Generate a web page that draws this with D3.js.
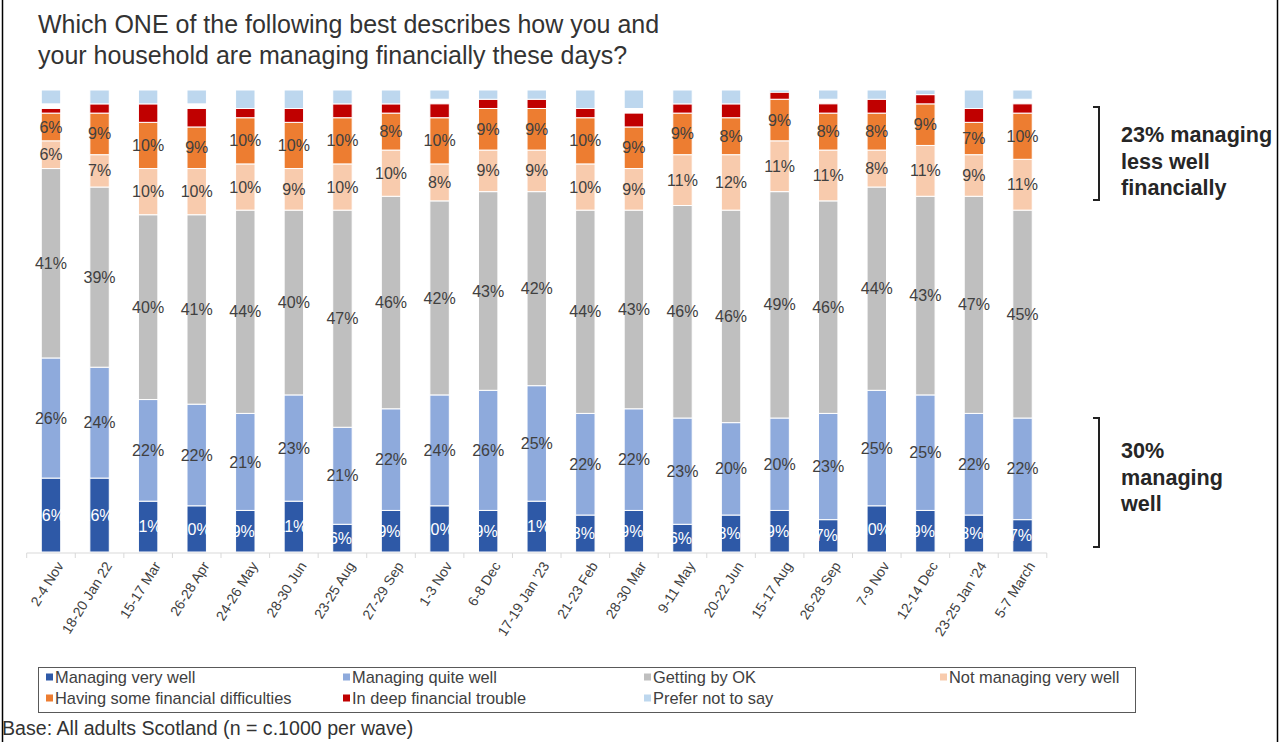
<!DOCTYPE html>
<html>
<head>
<meta charset="utf-8">
<script src="https://cdn.jsdelivr.net/npm/d3@7"></script>
<style>
  html, body { margin: 0; padding: 0; background: #fff; }
  svg { display: block; font-family: "Liberation Sans", Arial, sans-serif; }
</style>
</head>
<body>
<svg id="chart" width="1283" height="742"></svg>
<script>
// Survey waves (x axis)
const waves = ["2-4 Nov", "18-20 Jan 22", "15-17 Mar", "26-28 Apr", "24-26 May", "28-30 Jun",
  "23-25 Aug", "27-29 Sep", "1-3 Nov", "6-8 Dec", "17-19 Jan '23", "21-23 Feb", "28-30 Mar",
  "9-11 May", "20-22 Jun", "15-17 Aug", "26-28 Sep", "7-9 Nov", "12-14 Dec", "23-25 Jan '24", "5-7 March"];

// Share of respondents (%) per answer, one value per wave
const managingVeryWell   = [16, 16, 11, 10, 9, 11, 6, 9, 10, 9, 11, 8, 9, 6, 8, 9, 7, 10, 9, 8, 7];
const managingQuiteWell  = [26, 24, 22, 22, 21, 23, 21, 22, 24, 26, 25, 22, 22, 23, 20, 20, 23, 25, 25, 22, 22];
const gettingByOK        = [41, 39, 40, 41, 44, 40, 47, 46, 42, 43, 42, 44, 43, 46, 46, 49, 46, 44, 43, 47, 45];
const notManagingWell    = [6, 7, 10, 10, 10, 9, 10, 10, 8, 9, 9, 10, 9, 11, 12, 11, 11, 8, 11, 9, 11];
const someDifficulties   = [6, 9, 10, 9, 10, 10, 10, 8, 10, 9, 9, 10, 9, 9, 8, 9, 8, 8, 9, 7, 10];
const deepTrouble        = [1, 2, 4, 4, 2, 3, 3, 2, 3, 2, 2, 2, 3, 2, 3, 2, 2, 3, 2, 3, 2];
const preferNotToSay     = [3, 3, 3, 3, 4, 4, 3, 3, 2, 2, 2, 4, 4, 3, 3, 0.5, 2, 2, 1, 4, 2];

const seriesNames = ["Managing very well", "Managing quite well", "Getting by OK", "Not managing very well",
  "Having some financial difficulties", "In deep financial trouble", "Prefer not to say"];
const seriesColors = ["#2E59A7", "#8EAADC", "#BFBFBF", "#F8CBAD", "#ED7D31", "#C00000", "#BDD7EE"];
const labelledSeries = [true, true, true, true, true, false, false];

const seriesValues = [managingVeryWell, managingQuiteWell, gettingByOK, notManagingWell,
  someDifficulties, deepTrouble, preferNotToSay];

// Rows for d3.stack
const rows = waves.map((w, i) => {
  const r = { wave: w };
  seriesNames.forEach((s, k) => { r[s] = seriesValues[k][i]; });
  return r;
});

const svg = d3.select("#chart");

const x = d3.scaleBand().domain(waves).range([26.7, 1046.8]).paddingInner(0.6).paddingOuter(0.3);
const y = d3.scaleLinear().domain([0, 100]).range([552, 90]);

// Frame around the slide
svg.append("line").attr("x1", 2.5).attr("x2", 2.5).attr("y1", 0).attr("y2", 742)
  .attr("stroke", "#000").attr("stroke-width", 1.5);
svg.append("line").attr("x1", 1277.5).attr("x2", 1277.5).attr("y1", 0).attr("y2", 742)
  .attr("stroke", "#000").attr("stroke-width", 1.5);

// Title
const title = svg.append("text").attr("font-size", 25).attr("fill", "#333");
title.append("tspan").attr("x", 38).attr("y", 33).text("Which ONE of the following best describes how you and");
title.append("tspan").attr("x", 38).attr("y", 64).text("your household are managing financially these days?");

// The first six answers stack from the baseline; "Prefer not to say" sits at the top of each bar
const stackKeys = seriesNames.slice(0, 6);
const stacked = d3.stack().keys(stackKeys)(rows);

const bw = x.bandwidth();
const plot = svg.append("g");

stacked.forEach((layer, k) => {
  plot.append("g").selectAll("rect").data(layer).join("rect")
    .attr("x", d => x(d.data.wave))
    .attr("width", bw)
    .attr("y", d => y(d[1]))
    .attr("height", d => Math.max(0, y(d[0]) - y(d[1])))
    .attr("fill", seriesColors[k])
    .attr("stroke", "#fff").attr("stroke-width", 1);
});

const preferKey = seriesNames[6];
plot.append("g").selectAll("rect").data(rows).join("rect")
  .attr("x", d => x(d.wave))
  .attr("width", bw)
  .attr("y", y(100))
  .attr("height", d => y(100 - d[preferKey]) - y(100))
  .attr("fill", seriesColors[6])
  .attr("stroke", "#fff").attr("stroke-width", 1);

// Data labels centred in each labelled segment (white on the darkest series)
stacked.forEach((layer, k) => {
  if (!labelledSeries[k]) return;
  plot.append("g").selectAll("text").data(layer).join("text")
    .attr("x", d => x(d.data.wave) + bw / 2 + (k === 0 ? -2 : 0))
    .attr("y", d => y((d[0] + d[1]) / 2))
    .attr("dy", "0.35em")
    .attr("text-anchor", "middle")
    .attr("font-size", 16)
    .attr("fill", k === 0 ? "#fff" : "#404040")
    .text(d => (d[1] - d[0]) + "%");
});

// Category axis: light baseline with ticks between waves
const step = x.step();
const axisG = svg.append("g");
axisG.append("line").attr("x1", x.range()[0]).attr("x2", x.range()[1])
  .attr("y1", 553).attr("y2", 553).attr("stroke", "#D9D9D9").attr("stroke-width", 1);
const bounds = waves.map(w => x(w) + bw / 2 - step / 2).concat([x(waves[waves.length - 1]) + bw / 2 + step / 2]);
axisG.selectAll("line.tick").data(bounds).join("line").attr("class", "tick")
  .attr("x1", d => d).attr("x2", d => d).attr("y1", 553).attr("y2", 558)
  .attr("stroke", "#D9D9D9");
axisG.selectAll("text").data(waves).join("text")
  .attr("transform", d => `translate(${x(d) + bw / 2 + 9},${563}) rotate(-58)`)
  .attr("text-anchor", "end")
  .attr("dy", "0.35em")
  .attr("font-size", 14)
  .attr("fill", "#404040")
  .text(d => d);

// Bracket annotations on the right
function bracket(y0, y1) {
  svg.append("path")
    .attr("d", `M1093,${y0} H1099 V${y1} H1093`)
    .attr("fill", "none").attr("stroke", "#222").attr("stroke-width", 2);
}
bracket(107, 200);
bracket(418, 547);

const noteTop = ["23% managing", "less well", "financially"];
const noteBottom = ["30%", "managing", "well"];
svg.append("g").selectAll("text").data(noteTop).join("text")
  .attr("x", 1121).attr("y", (d, i) => 142 + i * 26.5)
  .attr("font-size", 21.6).attr("font-weight", "bold").attr("fill", "#262626").text(d => d);
svg.append("g").selectAll("text").data(noteBottom).join("text")
  .attr("x", 1121).attr("y", (d, i) => 458 + i * 26.5)
  .attr("font-size", 21.6).attr("font-weight", "bold").attr("fill", "#262626").text(d => d);

// Legend
const legend = svg.append("g");
legend.append("rect").attr("x", 38.5).attr("y", 667.5).attr("width", 1097).attr("height", 45)
  .attr("fill", "none").attr("stroke", "#595959").attr("stroke-width", 1);
const legendCols = [46, 343, 644, 940];
seriesNames.forEach((name, i) => {
  const row = i < 4 ? 0 : 1;
  const col = i < 4 ? i : i - 4;
  const g = legend.append("g").attr("transform", `translate(${legendCols[col]},${677 + row * 21})`);
  g.append("rect").attr("x", 0).attr("y", -3.5).attr("width", 7).attr("height", 7).attr("fill", seriesColors[i]);
  g.append("text").attr("x", 9).attr("dy", "0.35em").attr("font-size", 16.4).attr("fill", "#404040").text(name);
});

// Base note
svg.append("text").attr("x", 2).attr("y", 735).attr("font-size", 19.6).attr("fill", "#333")
  .text("Base: All adults Scotland (n = c.1000 per wave)");
</script>
</body>
</html>
